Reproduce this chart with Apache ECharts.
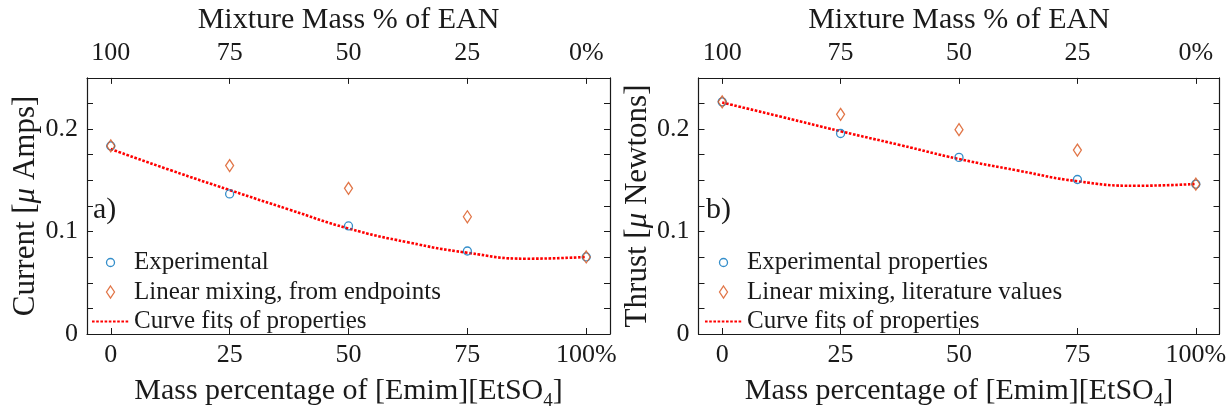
<!doctype html>
<html>
<head>
	<meta charset="utf-8">
	<title>EAN / [Emim][EtSO4] mixture</title>
	<script src="https://cdn.jsdelivr.net/npm/echarts@6/dist/echarts.min.js"></script>
	<style>
		html, body { margin: 0; padding: 0; background: #fff; }
		#main { width: 1231px; height: 416px; }
	</style>
</head>
<body>
	<div id="main"></div>
	<script>
		// mass % of [Emim][EtSO4]
		var xPct = [0, 25, 50, 75, 100];
		var bottomTickLabels = ['0', '25', '50', '75', '100%'];
		var topTickLabels = ['100', '75', '50', '25', '0%'];
		var yTicks = [0, 0.025, 0.05, 0.075, 0.1, 0.125, 0.15, 0.175, 0.2, 0.225, 0.25];
		var yLabelVals = [0, 0.1, 0.2];
		var yLabels = ['0', '0.1', '0.2'];

		// a) current
		var currentExp = [0.1836, 0.1367, 0.1055, 0.0810, 0.0752];
		var currentLin = [0.1836, 0.1644, 0.1422, 0.1144, 0.0752];
		// b) thrust
		var thrustExp = [0.2266, 0.1957, 0.1724, 0.1508, 0.1463];
		var thrustLin = [0.2266, 0.2144, 0.1995, 0.1795, 0.1463];
		// curve fits
		var fitX = [0, 12.5, 25, 37.5, 50, 62.5, 75, 87.5, 100];
		var currentFit = [0.1805, 0.1600, 0.1405, 0.1215, 0.1030, 0.0895, 0.0793, 0.0735, 0.0752];
		var thrustFit = [0.2260, 0.2120, 0.1979, 0.1845, 0.1708, 0.1595, 0.1491, 0.1447, 0.1465];

		var FONT = "'Liberation Serif', 'Times New Roman', serif";
		var INK = '#1a1a1a';
		var BLUE = '#0072BD', ORANGE = '#D95319', RED = '#FF0000';
		var CLEAR = 'rgba(255,255,255,0)';

		// legend icons: an 8px ring / 8x12 diamond inside an 8x12 box
		var ICON_CIRCLE = 'path://M4,0L4,0M4,2A4,4,0,1,1,4,10A4,4,0,1,1,4,2ZM4,12L4,12';
		var ICON_DIAMOND = 'path://M4,0L8,6L4,12L0,6Z';

		function pairs(xs, ys) {
			return xs.map(function (x, i) { return [x, ys[i]]; });
		}

		var axisLine = { show: true, onZero: false, lineStyle: { color: INK, width: 1.2 } };

		function xAxes(grid) {
			var base = {
				type: 'value', gridIndex: grid, min: -5, max: 105,
				axisLine: axisLine, splitLine: { show: false },
				axisTick: { inside: true, length: 6, lineStyle: { color: INK }, customValues: xPct }
			};
			return [
				Object.assign({}, base, {
					position: 'bottom',
					axisLabel: {
						customValues: xPct, margin: 8, fontFamily: FONT, fontSize: 26, color: INK,
						formatter: function (v) { return bottomTickLabels[xPct.indexOf(v)]; }
					},
					name: 'Mass percentage of [Emim][EtSO{sub|4}]',
					nameLocation: 'middle', nameGap: 38,
					nameTextStyle: {
						fontFamily: FONT, fontSize: 30, color: INK,
						rich: { sub: { fontFamily: FONT, fontSize: 19, color: INK, padding: [20, 0, 0, 0] } }
					}
				}),
				Object.assign({}, base, {
					position: 'top',
					axisLabel: {
						customValues: xPct, margin: 12, fontFamily: FONT, fontSize: 26, color: INK,
						formatter: function (v) { return topTickLabels[xPct.indexOf(v)]; }
					},
					name: 'Mixture Mass % of EAN',
					nameLocation: 'middle', nameGap: 36,
					nameTextStyle: { fontFamily: FONT, fontSize: 30, color: INK }
				})
			];
		}

		function yAxes(grid, title) {
			var base = {
				type: 'value', gridIndex: grid, min: 0, max: 0.25,
				axisLine: axisLine, splitLine: { show: false },
				axisTick: { inside: true, length: 6, lineStyle: { color: INK }, customValues: yTicks }
			};
			return [
				Object.assign({}, base, {
					position: 'left',
					axisLabel: {
						customValues: yLabelVals, margin: 9, fontFamily: FONT, fontSize: 26, color: INK,
						formatter: function (v) { return yLabels[yLabelVals.indexOf(v)]; }
					},
					name: title, nameLocation: 'middle', nameGap: 45,
					nameTextStyle: {
						fontFamily: FONT, fontSize: 31, color: INK,
						rich: { mu: { fontFamily: FONT, fontSize: 31, fontStyle: 'italic', color: INK } }
					}
				}),
				Object.assign({}, base, { position: 'right', axisLabel: { show: false } })
			];
		}

		function seriesFor(k, names, exp, lin, fit) {
			return [
				{
					name: names[2], type: 'line', xAxisIndex: 2 * k, yAxisIndex: 2 * k,
					data: pairs(fitX, fit), smooth: true, showSymbol: false, symbol: 'none',
					lineStyle: { color: RED, width: 2.6, type: [2.6, 1.6] }, itemStyle: { color: RED },
					z: 2
				},
				{
					name: names[0], type: 'scatter', xAxisIndex: 2 * k, yAxisIndex: 2 * k,
					data: pairs(xPct, exp), symbol: 'circle', symbolSize: 8,
					itemStyle: { color: CLEAR, borderColor: BLUE, borderWidth: 1.3 },
					z: 3
				},
				{
					name: names[1], type: 'scatter', xAxisIndex: 2 * k, yAxisIndex: 2 * k,
					data: pairs(xPct, lin), symbol: 'diamond', symbolSize: [8, 12],
					itemStyle: { color: CLEAR, borderColor: ORANGE, borderWidth: 1.3 },
					z: 4
				}
			];
		}

		var namesA = ['Experimental', 'Linear mixing, from endpoints', 'Curve fits of properties'];
		var namesB = ['Experimental properties', 'Linear mixing, literature values', 'Curve fits of properties'];

		function legendFor(names, left) {
			return {
				orient: 'vertical', left: left, top: 250, itemGap: 4.5, padding: 0,
				itemWidth: 37, itemHeight: 12, selectedMode: false,
				data: [
					{ name: names[0], icon: ICON_CIRCLE, itemStyle: { color: CLEAR, borderColor: BLUE, borderWidth: 1.3 } },
					{ name: names[1], icon: ICON_DIAMOND, itemStyle: { color: CLEAR, borderColor: ORANGE, borderWidth: 1.3 } },
					{ name: names[2], itemStyle: { opacity: 0 } }
				],
				textStyle: { fontFamily: FONT, fontSize: 25, color: INK }
			};
		}

		var chart = echarts.init(document.getElementById('main'), null, { renderer: 'canvas' });
		chart.setOption({
			animation: false,
			backgroundColor: '#fff',
			grid: [
				{ left: 87, top: 75, width: 523, height: 262 },
				{ left: 698.5, top: 75, width: 521, height: 262 }
			],
			xAxis: xAxes(0).concat(xAxes(1)),
			yAxis: yAxes(0, 'Current [{mu|μ} Amps]').concat(yAxes(1, 'Thrust [{mu|μ} Newtons]')),
			legend: [legendFor(namesA, 91), legendFor(namesB, 704)],
			graphic: [
				{ type: 'text', left: 93, top: 195, style: { text: 'a)', font: '30px ' + FONT, fill: INK } },
				{ type: 'text', left: 706, top: 195, style: { text: 'b)', font: '30px ' + FONT, fill: INK } }
			],
			series: seriesFor(0, namesA, currentExp, currentLin, currentFit)
				.concat(seriesFor(1, namesB, thrustExp, thrustLin, thrustFit))
		});
	</script>
</body>
</html>
